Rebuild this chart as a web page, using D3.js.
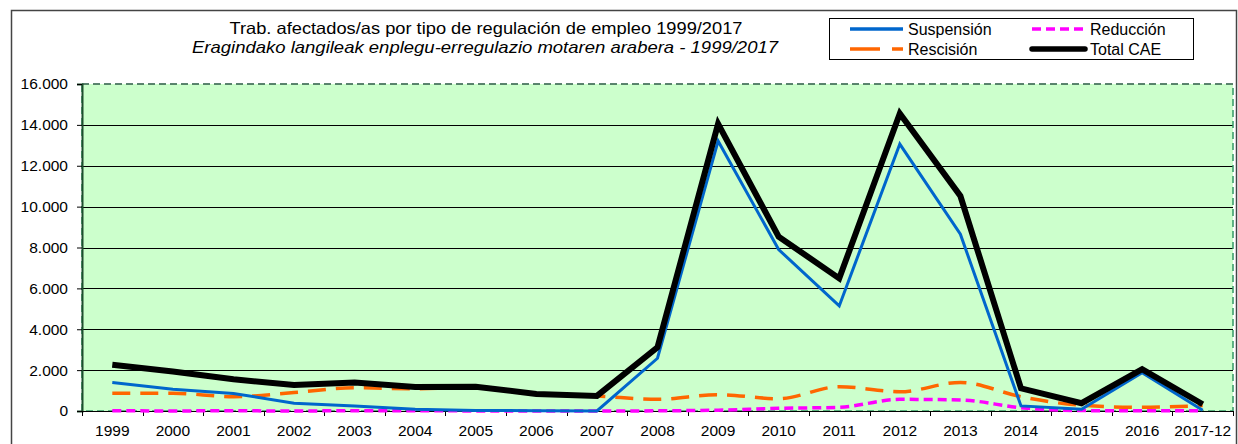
<!DOCTYPE html>
<html>
<head>
<meta charset="utf-8">
<script src="https://cdn.jsdelivr.net/npm/d3@7"></script>
<style>
  body { margin: 0; background: #fff; }
  svg { display: block; font-family: "Liberation Sans", Arial, sans-serif; }
</style>
</head>
<body>
<div id="chart"></div>
<script>
// data
var years = ["1999","2000","2001","2002","2003","2004","2005","2006","2007","2008",
             "2009","2010","2011","2012","2013","2014","2015","2016","2017-12"];
var suspension = [1390,1070,860,380,250,80,30,10,0,2580,13210,7900,5140,13060,8650,250,90,1870,40];
var rescision  = [870,870,700,900,1140,1090,1150,820,730,570,800,600,1190,940,1400,700,280,180,270];
var reduccion  = [10,5,10,0,15,10,5,0,0,10,40,130,180,570,540,160,20,10,10];
var totalCAE   = [2260,1930,1550,1270,1400,1170,1190,830,740,3120,14050,8530,6490,14560,10520,1110,380,2050,330];
var yTicks = [0,2000,4000,6000,8000,10000,12000,14000,16000];

var W = 1238, H = 444;
var plot = {left: 82, right: 1233, top: 84, bottom: 411};

var svg = d3.select("#chart").append("svg")
    .attr("width", W).attr("height", H);

// outer frame
svg.append("rect")
    .attr("x", 11.5).attr("y", 10.5)
    .attr("width", 1225).attr("height", 450)
    .attr("fill", "#fff").attr("stroke", "#444").attr("stroke-width", 1.5);

var x = d3.scaleBand().domain(years).range([plot.left, plot.right]).padding(0);
var y = d3.scaleLinear().domain([0, 16000]).range([plot.bottom, plot.top]);

var loc = d3.formatLocale({decimal: ",", thousands: ".", grouping: [3], currency: ["", ""]});
var fmt = loc.format(",.0f");

// plot background
svg.append("rect")
    .attr("x", plot.left).attr("y", plot.top)
    .attr("width", plot.right - plot.left).attr("height", plot.bottom - plot.top)
    .attr("fill", "#ccffcc");

// gridlines
svg.append("g").selectAll("line")
    .data(yTicks.filter(function(d){ return d > 0 && d < 16000; }))
    .enter().append("line")
    .attr("x1", plot.left).attr("x2", plot.right)
    .attr("y1", function(d){ return Math.round(y(d)) + 0.5; })
    .attr("y2", function(d){ return Math.round(y(d)) + 0.5; })
    .attr("stroke", "#000").attr("stroke-width", 1);

// dashed plot border
svg.append("rect")
    .attr("x", plot.left).attr("y", plot.top)
    .attr("width", plot.right - plot.left).attr("height", plot.bottom - plot.top)
    .attr("fill", "none").attr("stroke", "#339966").attr("stroke-width", 1.5)
    .attr("stroke-dasharray", "7,4");
svg.append("line")
    .attr("x1", plot.left).attr("x2", plot.right)
    .attr("y1", plot.top).attr("y2", plot.top)
    .attr("stroke", "#555").attr("stroke-width", 1).attr("stroke-dasharray", "7,4");

// y axis
var yAxis = svg.append("g")
    .attr("transform", "translate(" + plot.left + ",0)")
    .call(d3.axisLeft(y).tickValues(yTicks).tickFormat(fmt).tickSize(5).tickPadding(9));
yAxis.select(".domain").attr("stroke", "#1d4d2d").attr("stroke-width", 2);
yAxis.selectAll(".tick line").attr("stroke", "#000");
yAxis.selectAll("text").attr("font-size", 15.5).attr("fill", "#000")
    .style("font-family", "Liberation Sans, Arial, sans-serif");

// x axis
var xAxis = svg.append("g")
    .attr("transform", "translate(0," + plot.bottom + ")")
    .call(d3.axisBottom(x).tickSize(0).tickPadding(14));
xAxis.select(".domain").attr("stroke", "#000").attr("stroke-width", 1);
xAxis.selectAll("text").attr("font-size", 15.5).attr("fill", "#000")
    .style("font-family", "Liberation Sans, Arial, sans-serif");
// tick marks on category boundaries
svg.append("g").selectAll("line")
    .data(years.concat(["end"]))
    .enter().append("line")
    .attr("x1", function(d, i){ return Math.round(plot.left + i * x.bandwidth()) + 0.5; })
    .attr("x2", function(d, i){ return Math.round(plot.left + i * x.bandwidth()) + 0.5; })
    .attr("y1", plot.bottom).attr("y2", plot.bottom + 5)
    .attr("stroke", "#000");

function cx(d, i){ return x(years[i]) + x.bandwidth() / 2; }

var series = [
  {name: "Rescisión",  values: rescision,  color: "#ff6600", width: 3.5, dash: "18,10", curve: d3.curveMonotoneX},
  {name: "Reducción",  values: reduccion,  color: "#ff00ff", width: 3.5, dash: "9,5",   curve: d3.curveMonotoneX},
  {name: "Suspensión", values: suspension, color: "#0066cc", width: 3,   dash: null,    curve: d3.curveLinear},
  {name: "Total CAE",  values: totalCAE,   color: "#000000", width: 6,   dash: null,    curve: d3.curveLinear}
];

series.forEach(function(s){
  var line = d3.line().x(cx).y(function(d){ return y(d); }).curve(s.curve);
  svg.append("path")
      .datum(s.values)
      .attr("d", line)
      .attr("fill", "none")
      .attr("stroke", s.color)
      .attr("stroke-width", s.width)
      .attr("stroke-linejoin", "miter")
      .attr("stroke-dasharray", s.dash);
});

// title
svg.append("text")
    .attr("x", 486).attr("y", 34)
    .attr("text-anchor", "middle").attr("font-size", 16.5)
    .attr("textLength", 513).attr("lengthAdjust", "spacingAndGlyphs")
    .text("Trab. afectados/as por tipo de regulación de empleo 1999/2017");
svg.append("text")
    .attr("x", 485).attr("y", 53)
    .attr("text-anchor", "middle").attr("font-size", 16.5).attr("font-style", "italic")
    .attr("textLength", 586).attr("lengthAdjust", "spacingAndGlyphs")
    .text("Eragindako langileak enplegu-erregulazio motaren arabera - 1999/2017");

// legend
var lg = svg.append("g");
lg.append("rect")
    .attr("x", 829.5).attr("y", 18.5).attr("width", 364).attr("height", 41)
    .attr("fill", "#fff").attr("stroke", "#000").attr("stroke-width", 1);
var legendItems = [
  {s: series[2], x: 850, y: 29},
  {s: series[1], x: 1032, y: 29},
  {s: series[0], x: 850, y: 49},
  {s: series[3], x: 1032, y: 49}
];
legendItems.forEach(function(it){
  lg.append("line")
      .attr("x1", it.x).attr("x2", it.x + 53)
      .attr("y1", it.y).attr("y2", it.y)
      .attr("stroke", it.s.color)
      .attr("stroke-width", it.s.name == "Total CAE" ? 5.5 : 3.5)
      .attr("stroke-linecap", it.s.name == "Total CAE" ? "round" : "butt")
      .attr("stroke-dasharray", it.s.name == "Rescisión" ? "30,12" : it.s.dash);
  lg.append("text")
      .attr("x", it.x + 58).attr("y", it.y + 5.5)
      .attr("font-size", 16)
      .text(it.s.name);
});
</script>
</body>
</html>
